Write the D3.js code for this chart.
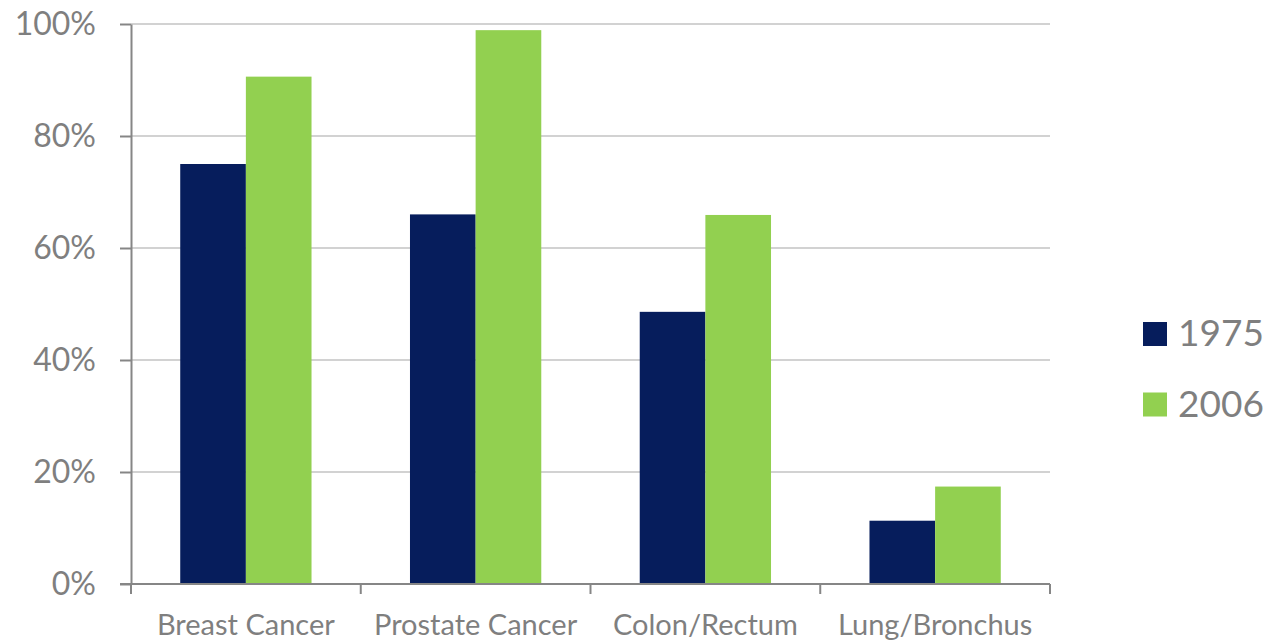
<!DOCTYPE html>
<html>
<head>
<meta charset="utf-8">
<script src="https://cdn.jsdelivr.net/npm/d3@7"></script>
<style>
  html, body { margin: 0; padding: 0; background: #ffffff; }
  svg { display: block; font-family: Lato, "Open Sans", sans-serif; }
</style>
</head>
<body>
<svg id="chart" width="1266" height="642"></svg>
<script>
// Five-year relative survival by cancer site
const categories = ["Breast Cancer", "Prostate Cancer", "Colon/Rectum", "Lung/Bronchus"];
const seriesNames = ["1975", "2006"];
const values1975 = [75, 66, 48.6, 11.3];
const values2006 = [90.6, 98.9, 65.9, 17.4];
const yTicks = [0, 20, 40, 60, 80, 100];
const seriesColors = ["#061d5c", "#92d050"];

const seriesValues = [values1975, values2006];
const rows = categories.map((c, i) => ({
  category: c,
  values: seriesNames.map((s, j) => ({ series: s, value: seriesValues[j][i] }))
}));

const svg = d3.select("#chart");
const plot = { left: 131, right: 1050, top: 24, bottom: 584 };

const x = d3.scaleBand().domain(categories).range([plot.left, plot.right]).padding(0);
const xInner = d3.scaleBand().domain(seriesNames).range([0, x.bandwidth()])
  .paddingInner(0).paddingOuter(0.75);
const y = d3.scaleLinear().domain([0, 100]).range([plot.bottom, plot.top]);
const color = d3.scaleOrdinal().domain(seriesNames).range(seriesColors);

// Horizontal gridlines
svg.append("g")
  .selectAll("line")
  .data(yTicks.filter(t => t > 0))
  .join("line")
  .attr("x1", plot.left).attr("x2", plot.right)
  .attr("y1", d => y(d)).attr("y2", d => y(d))
  .attr("stroke", "#c3c3c3").attr("stroke-width", 1.5);

// Bars
const groups = svg.append("g")
  .selectAll("g")
  .data(rows)
  .join("g")
  .attr("transform", d => `translate(${x(d.category)},0)`);

groups.selectAll("rect")
  .data(d => d.values)
  .join("rect")
  .attr("x", d => xInner(d.series))
  .attr("width", xInner.bandwidth())
  .attr("y", d => y(d.value))
  .attr("height", d => y(0) - y(d.value))
  .attr("fill", d => color(d.series));

// Y axis
const yAxis = svg.append("g")
  .attr("transform", `translate(${plot.left},0)`)
  .call(d3.axisLeft(y).tickValues(yTicks).tickFormat(d => d + "%").tickSize(11).tickSizeOuter(0).tickPadding(24));
yAxis.select(".domain").attr("stroke", "#868686").attr("stroke-width", 2);
yAxis.selectAll(".tick line").attr("stroke", "#868686").attr("stroke-width", 2);
yAxis.selectAll(".tick text")
  .attr("fill", "#7f7f7f")
  .attr("font-size", 32)
  .attr("font-family", "Lato, 'Open Sans', sans-serif");

// X axis with ticks at category boundaries
const xAxisG = svg.append("g");
xAxisG.append("line")
  .attr("x1", plot.left - 11).attr("x2", plot.right)
  .attr("y1", y(0)).attr("y2", y(0))
  .attr("stroke", "#868686").attr("stroke-width", 2);
const boundaries = categories.map(c => x(c)).concat([x(categories[categories.length - 1]) + x.bandwidth()]);
xAxisG.selectAll("line.bound")
  .data(boundaries)
  .join("line")
  .attr("class", "bound")
  .attr("x1", d => d).attr("x2", d => d)
  .attr("y1", y(0)).attr("y2", y(0) + 10)
  .attr("stroke", "#868686").attr("stroke-width", 2);
xAxisG.selectAll("text")
  .data(categories)
  .join("text")
  .attr("x", d => x(d) + x.bandwidth() / 2)
  .attr("y", 635)
  .attr("text-anchor", "middle")
  .attr("fill", "#7f7f7f")
  .attr("font-size", 29)
  .text(d => d);

// Legend
const legend = svg.append("g")
  .selectAll("g")
  .data(seriesNames)
  .join("g")
  .attr("transform", (d, i) => `translate(1143,${322 + i * 70.5})`);
legend.append("rect")
  .attr("width", 24).attr("height", 24)
  .attr("fill", d => color(d));
legend.append("text")
  .attr("x", 35).attr("y", 24)
  .attr("fill", "#7f7f7f")
  .attr("font-size", 37)
  .text(d => d);
</script>
</body>
</html>
